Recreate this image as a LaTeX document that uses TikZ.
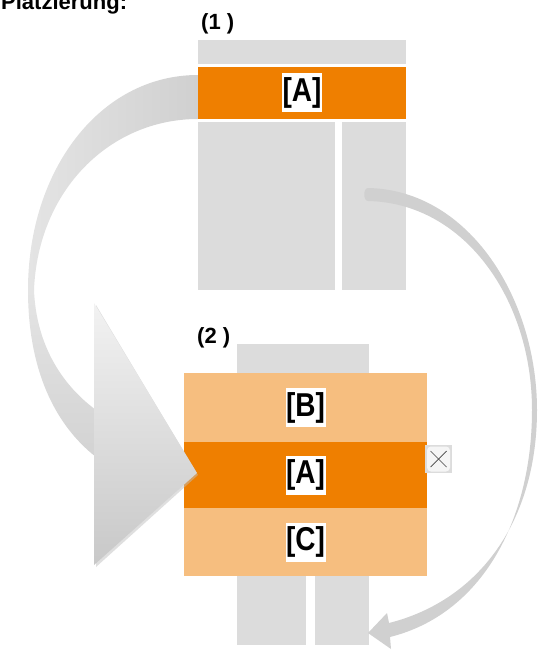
\documentclass[tikz,border=0pt]{standalone}
\usepackage{fontspec}
\setmainfont{Liberation Sans}
\definecolor{boxgray}{RGB}{220,220,220}
\definecolor{orangeD}{RGB}{239,127,0}
\definecolor{orangeL}{RGB}{246,190,127}
\definecolor{arrowA}{RGB}{208,208,208}
\definecolor{arrowB}{RGB}{228,228,228}
\definecolor{arrowC}{RGB}{242,242,242}
\definecolor{arrowD}{RGB}{200,200,200}
\tikzset{
  rect/.style={anchor=north west, inner sep=0pt, outer sep=0pt, draw=none},
  grayrect/.style={rect, fill=boxgray},
  orangerect/.style={rect, fill=orangeD},
  lightrect/.style={rect, fill=orangeL},
  tag/.style={fill=white, inner sep=0pt, minimum width=40pt, minimum height=39pt,
    font=\fontsize{28}{30}\selectfont\bfseries},
  heading/.style={font=\fontsize{22}{26}\selectfont\bfseries, inner sep=0pt},
}
\newcommand{\tagtext}[1]{\scalebox{1.0}[1.18]{#1}}
\begin{document}
\begin{tikzpicture}[x=1pt,y=-1pt]
\useasboundingbox (0,0) rectangle (543,650);

% title (cut at top, as in the reference)
\node[heading, anchor=base west] (title) at (1,10) {Platzierung:};
\node[heading, anchor=base west] (lab1) at (201,30) {(1 )};
\node[heading, anchor=base west] (lab2) at (197,343) {(2 )};

% ---- box 1 ----
\node[grayrect, minimum width=208pt, minimum height=24pt] (t1top) at (198,40) {};
\node[orangerect, minimum width=208pt, minimum height=52pt] (t1A) at (198,67) {};
\node[grayrect, minimum width=137pt, minimum height=168pt] (t1L) at (198,122) {};
\node[grayrect, minimum width=64pt, minimum height=168pt] (t1R) at (342,122) {};
\node[tag] (t1Atag) at (t1A.center) {\tagtext{[A]}};

% ---- box 2 ----
\node[grayrect, minimum width=132pt, minimum height=29pt] (b2top) at (237,344) {};
\node[lightrect, minimum width=243pt, minimum height=69pt] (b2B) at (184,373) {};
\node[orangerect, minimum width=243pt, minimum height=66pt] (b2A) at (184,442) {};
\node[lightrect, minimum width=243pt, minimum height=68pt] (b2C) at (184,508) {};
\node[grayrect, minimum width=69pt, minimum height=69pt] (b2L) at (237,576) {};
\node[grayrect, minimum width=54pt, minimum height=69pt] (b2R) at (315,576) {};
\node[tag] (b2Btag) at (b2B.center) {\tagtext{[B]}};
\node[tag] (b2Atag) at (b2A.center) {\tagtext{[A]}};
\node[tag] (b2Ctag) at (b2C.center) {\tagtext{[C]}};

% close button
\node[rect, fill=boxgray, minimum width=27pt, minimum height=28pt] (xbg) at (425,445) {};
\node[fill=white!96!black, rounded corners=4pt, inner sep=0pt, minimum width=23pt, minimum height=25pt] (xbtn) at (xbg.center) {};
\draw[black!75, line width=0.7pt] ([shift={(-8pt,-8pt)}]xbtn.center) -- ([shift={(8pt,8pt)}]xbtn.center);
\draw[black!75, line width=0.7pt] ([shift={(-8pt,8pt)}]xbtn.center) -- ([shift={(8pt,-8pt)}]xbtn.center);

% ---- left curved arrow ----
\coordinate (laTop) at (198,75);
\coordinate (laTip) at (197,473);
\shade[left color=arrowB, right color=arrowA]
  (laTop) .. controls (100,75) and (28,170) .. (28,290)
  -- (34,290) .. controls (38,190) and (110,119) .. (t1A.south west) -- cycle;
\shade[top color=arrowB, bottom color=arrowD!80!white]
  (28,290) .. controls (28,370) and (55,425) .. (96,457)
  -- (96,410) .. controls (58,382) and (36,340) .. (34,290) -- cycle;
\fill[black!25, opacity=0.5] (96,305) -- ([shift={(1pt,-2pt)}]laTip) -- (96,567) -- cycle;
\shade[top color=arrowC, bottom color=arrowD]
  (94,303) -- (laTip) -- (94,565) -- cycle;

% ---- right curved arrow ----
\fill[arrowA]
  (368,188) .. controls (470,190) and (537,300) .. (537,410)
  .. controls (537,520) and (480,600) .. (389,623)
  -- (387,613) -- (368,633) -- (391,649) -- (390,637)
  .. controls (482,614) and (532,520) .. (532,410)
  .. controls (532,300) and (465,203) .. (368,201)
  .. controls (363,201) and (363,188) .. (368,188) -- cycle;
\end{tikzpicture}
\end{document}
